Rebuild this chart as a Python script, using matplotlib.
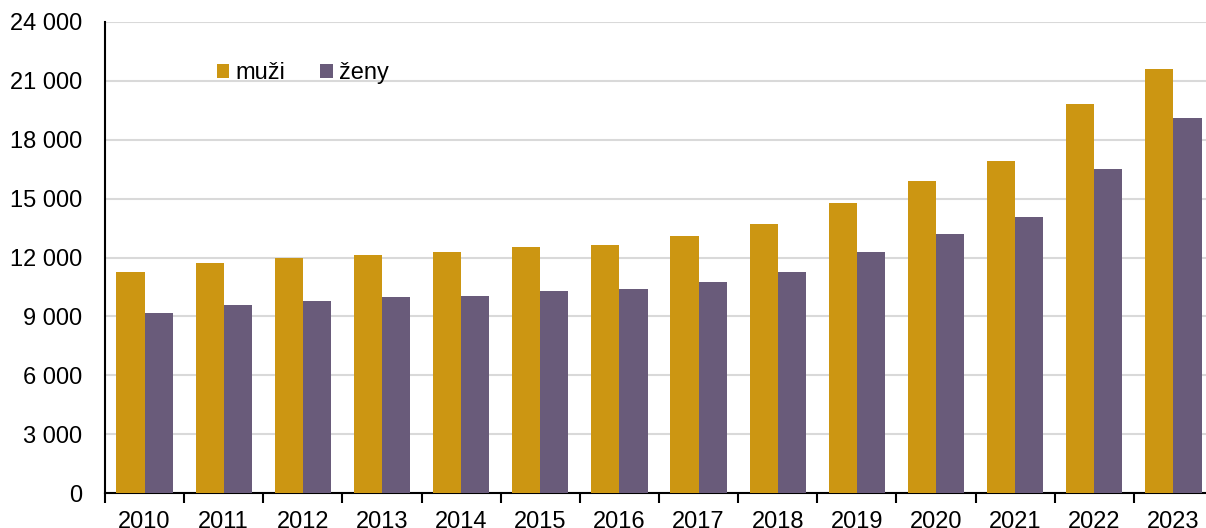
import numpy as np
import matplotlib
matplotlib.use('Agg')
import matplotlib.pyplot as plt
from matplotlib.ticker import FuncFormatter, FixedLocator

plt.rcParams['font.family'] = ['Liberation Sans', 'DejaVu Sans']

# hodnoty
roky = ['2010', '2011', '2012', '2013', '2014', '2015', '2016',
        '2017', '2018', '2019', '2020', '2021', '2022', '2023']
muzi = [11240, 11710, 11950, 12140, 12270, 12560, 12660,
        13090, 13700, 14780, 15880, 16930, 19800, 21600]
zeny = [9190, 9600, 9800, 9970, 10050, 10310, 10410,
        10750, 11270, 12270, 13200, 14070, 16510, 19090]

C_MUZI = '#cc9612'
C_ZENY = '#695b7a'

fig = plt.figure(figsize=(12.06, 5.28), dpi=100)
ax = fig.add_axes([105 / 1206, 35 / 528, 1108 / 1206, 471 / 528])

x = np.arange(len(roky))
w = 0.355
ax.bar(x - w / 2, muzi, w, color=C_MUZI, label='muži', zorder=3)
ax.bar(x + w / 2, zeny, w, color=C_ZENY, label='ženy', zorder=3)

ax.set_xlim(-0.5, len(roky) - 0.5)
ax.set_ylim(0, 24000)
ax.set_yticks(np.arange(0, 24001, 3000))
ax.yaxis.set_major_formatter(FuncFormatter(lambda v, p: f'{int(v):,}'.replace(',', ' ')))
ax.yaxis.grid(True, color='#d9d9d9', linewidth=1.5, zorder=0)
ax.set_axisbelow(True)

ax.set_xticks(x)
ax.set_xticklabels(roky)
ax.xaxis.set_minor_locator(FixedLocator(np.arange(-0.5, len(roky), 1)))
ax.tick_params(axis='x', which='major', length=0, pad=13, labelsize=17)
ax.tick_params(axis='x', which='minor', length=7, width=1.5, direction='out')
ax.tick_params(axis='y', length=0, pad=16.5, labelsize=17)

for s in ['top', 'right']:
    ax.spines[s].set_visible(False)
for s in ['left', 'bottom']:
    ax.spines[s].set_linewidth(1.5)
    ax.spines[s].set_color('black')

ax.legend(loc='upper left', bbox_to_anchor=(0.101, 0.915), ncol=2, frameon=False,
          fontsize=17, handlelength=0.52, handleheight=0.52, handletextpad=0.25,
          columnspacing=1.5, borderpad=0, borderaxespad=0)

fig.savefig('out.png', dpi=100)
